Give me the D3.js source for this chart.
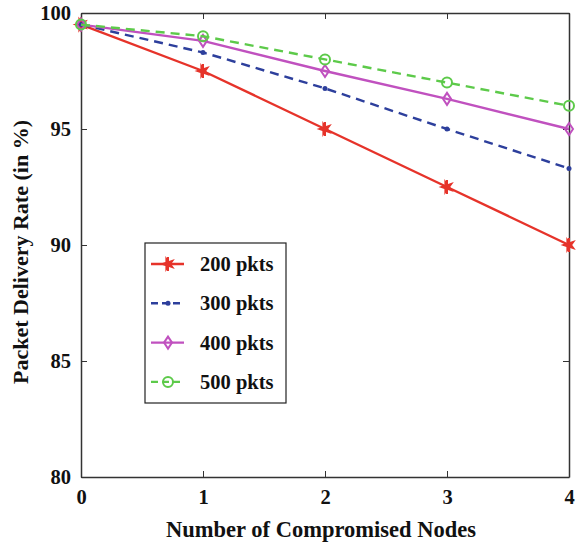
<!DOCTYPE html>
<html>
<head>
<meta charset="utf-8">
<script src="https://cdn.jsdelivr.net/npm/d3@7"></script>
<style>
  body { margin: 0; background: #fff; }
</style>
</head>
<body>
<div id="chart"></div>
<script>
// packet delivery rate vs compromised nodes
var nodes = [0, 1, 2, 3, 4];
var pkts200 = [99.5, 97.5, 95.0, 92.5, 90.0];
var pkts300 = [99.5, 98.3, 96.75, 95.0, 93.3];
var pkts400 = [99.5, 98.8, 97.5, 96.3, 95.0];
var pkts500 = [99.5, 99.0, 98.0, 97.0, 96.0];
var seriesNames = ["200 pkts", "300 pkts", "400 pkts", "500 pkts"];
var yTicks = [80, 85, 90, 95, 100];

var width = 577, height = 545;
var margin = { top: 13, right: 8, bottom: 68, left: 81 };

var series = [
  { name: seriesNames[0], values: pkts200, color: "#e6332a", dash: null, marker: "star" },
  { name: seriesNames[1], values: pkts300, color: "#2d3f9c", dash: "9,6", marker: "dot" },
  { name: seriesNames[2], values: pkts400, color: "#c051bf", dash: null, marker: "diamond" },
  { name: seriesNames[3], values: pkts500, color: "#5dca4a", dash: "9,6", marker: "circle" }
];

var svg = d3.select("#chart").append("svg")
  .attr("width", width)
  .attr("height", height);

var x = d3.scaleLinear().domain([0, 4]).range([margin.left, width - margin.right]);
var y = d3.scaleLinear().domain([80, 100]).range([height - margin.bottom, margin.top]);

var tickLen = 6;

// axes, matlab style: ticks inside on all four sides
svg.append("g")
  .attr("transform", `translate(0,${y(80)})`)
  .call(d3.axisBottom(x).tickValues(nodes).tickFormat(d3.format("d")).tickSizeInner(-tickLen).tickSizeOuter(0).tickPadding(12));
svg.append("g")
  .attr("transform", `translate(0,${y(100)})`)
  .call(d3.axisTop(x).tickValues(nodes).tickFormat("").tickSizeInner(-tickLen).tickSizeOuter(0));
svg.append("g")
  .attr("transform", `translate(${x(0)},0)`)
  .call(d3.axisLeft(y).tickValues(yTicks).tickSizeInner(-tickLen).tickSizeOuter(0).tickPadding(10));
svg.append("g")
  .attr("transform", `translate(${x(4)},0)`)
  .call(d3.axisRight(y).tickValues(yTicks).tickFormat("").tickSizeInner(-tickLen).tickSizeOuter(0));

svg.selectAll(".domain").attr("stroke", "#333").attr("stroke-width", 1.5);
svg.selectAll(".tick line").attr("stroke", "#333");
svg.selectAll(".tick text").style("font-size", "20.5px").attr("fill", "#111");

// titles
svg.append("text")
  .attr("x", 321)
  .attr("y", 537)
  .attr("text-anchor", "middle")
  .style("font-size", "22.5px")
  .attr("fill", "#111")
  .text("Number of Compromised Nodes");

svg.append("text")
  .attr("transform", `translate(28,252) rotate(-90)`)
  .attr("text-anchor", "middle")
  .style("font-size", "22px")
  .attr("fill", "#111")
  .text("Packet Delivery Rate (in %)");

var line = d3.line()
  .x((d, i) => x(nodes[i]))
  .y(d => y(d));

function drawMarker(g, type, color, cx, cy) {
  if (type == "star") {
    g.append("path")
      .attr("d", d3.symbol(d3.symbolStar, 80)())
      .attr("transform", `translate(${cx},${cy}) rotate(-90)`)
      .attr("fill", color);
    g.append("path")
      .attr("d", `M${cx},${cy - 7}V${cy + 7}`)
      .attr("stroke", color).attr("stroke-width", 2);
  } else if (type == "dot") {
    g.append("circle").attr("cx", cx).attr("cy", cy).attr("r", 2.5).attr("fill", color);
  } else if (type == "diamond") {
    g.append("path")
      .attr("d", `M${cx},${cy - 6}L${cx + 4},${cy}L${cx},${cy + 6}L${cx - 4},${cy}Z`)
      .attr("fill", "none").attr("stroke", color).attr("stroke-width", 2);
  } else if (type == "circle") {
    g.append("circle").attr("cx", cx).attr("cy", cy).attr("r", 5)
      .attr("fill", "none").attr("stroke", color).attr("stroke-width", 2);
  }
}

series.forEach(s => {
  var g = svg.append("g");
  g.append("path")
    .datum(s.values)
    .attr("d", line)
    .attr("fill", "none")
    .attr("stroke", s.color)
    .attr("stroke-width", 2.4)
    .attr("stroke-dasharray", s.dash);
  s.values.forEach((v, i) => drawMarker(g, s.marker, s.color, x(nodes[i]), y(v)));
});

// legend
var legend = svg.append("g");
legend.append("rect")
  .attr("x", 145).attr("y", 243)
  .attr("width", 141).attr("height", 160)
  .attr("fill", "#fff")
  .attr("stroke", "#222").attr("stroke-width", 1.2);

series.forEach((s, i) => {
  var ly = 264 + i * 39.3;
  legend.append("path")
    .attr("d", `M151,${ly}H184`)
    .attr("stroke", s.color).attr("stroke-width", 2.4)
    .attr("stroke-dasharray", s.dash ? "7,4" : null);
  drawMarker(legend, s.marker, s.color, 168, ly);
  legend.append("text")
    .attr("x", 200).attr("y", ly + 7)
    .style("font-size", "20.5px")
    .attr("fill", "#111")
    .text(s.name);
});

// every label in bold serif (inline style wins over the axis font attribute)
svg.selectAll("text")
  .style("font-family", '"Liberation Serif"')
  .style("font-weight", "bold");
</script>
</body>
</html>
